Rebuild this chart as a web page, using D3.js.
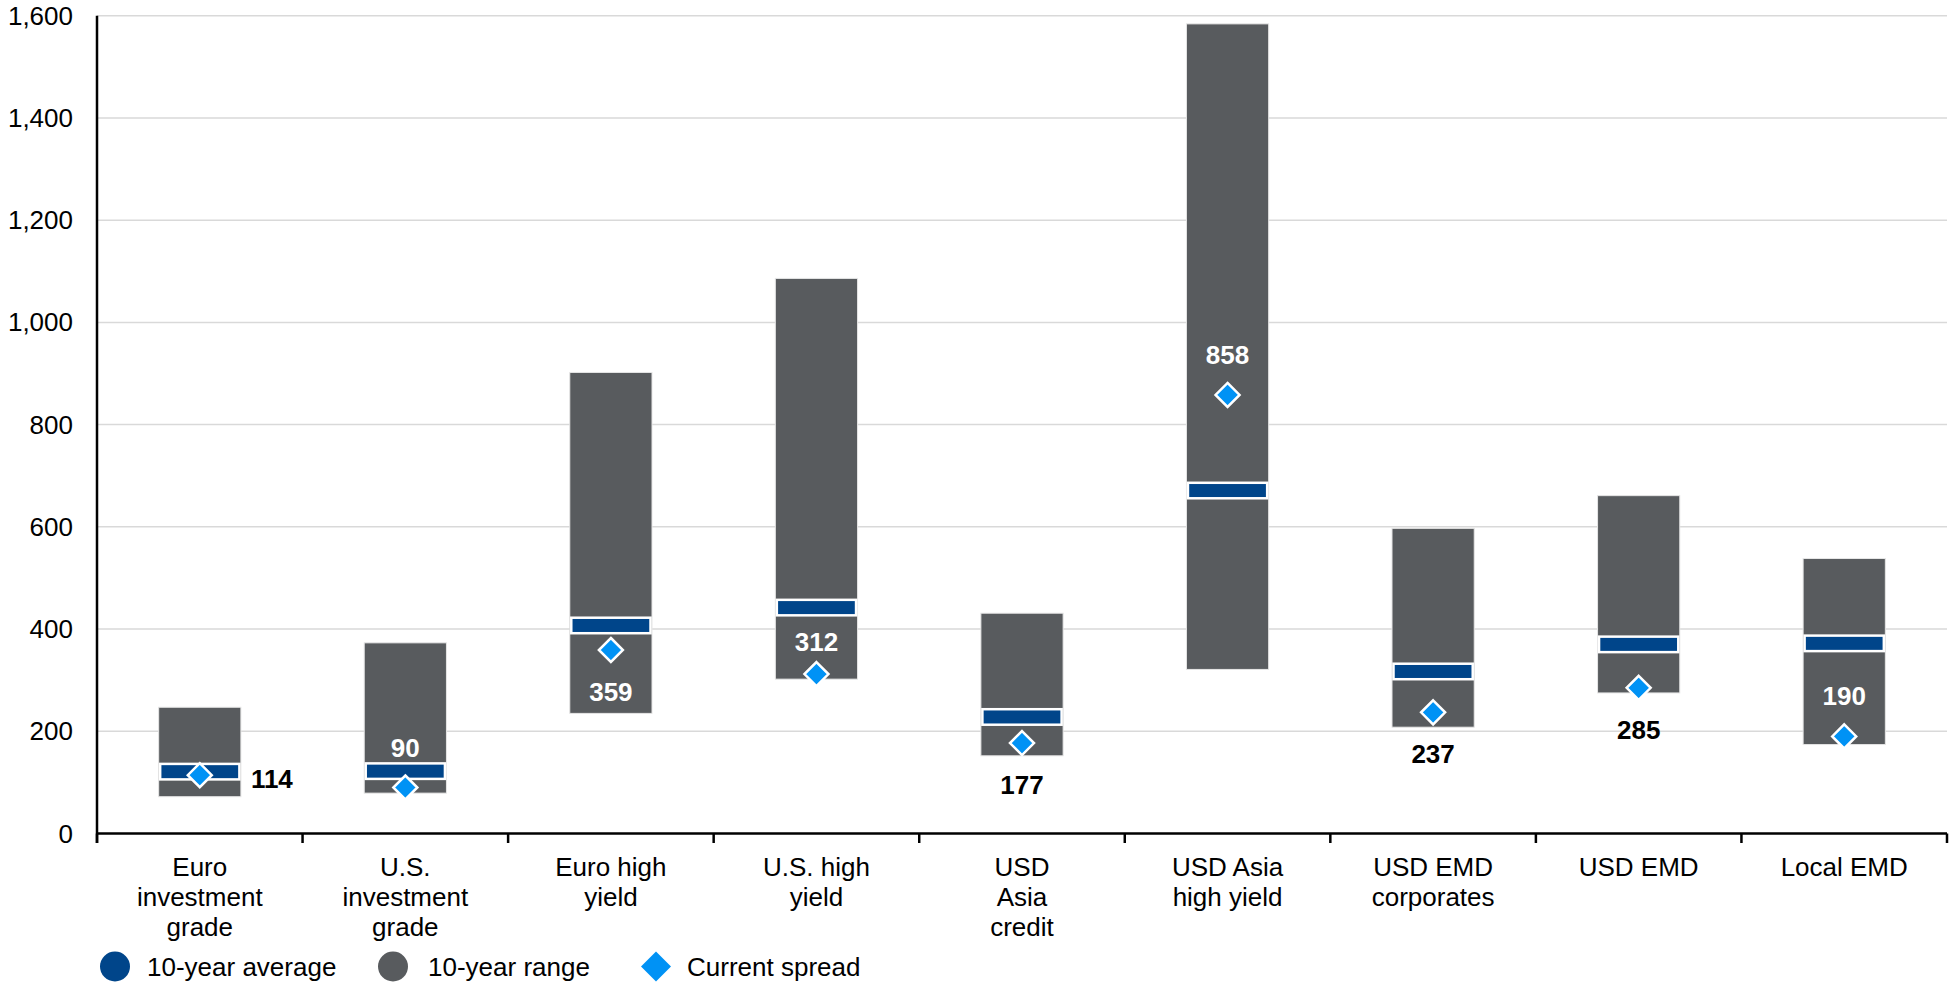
<!DOCTYPE html>
<html>
<head>
<meta charset="utf-8">
<script src="https://cdn.jsdelivr.net/npm/d3@7"></script>
<style>
  html, body { margin: 0; padding: 0; background: #fff; }
  svg { display: block; font-family: "Liberation Sans", Arial, sans-serif; }
</style>
</head>
<body>
<svg id="chart" width="1959" height="984"></svg>
<script>
// Sector spreads (bps): 10-year range, 10-year average and current spread
const categories = [
  "Euro\ninvestment\ngrade",
  "U.S.\ninvestment\ngrade",
  "Euro high\nyield",
  "U.S. high\nyield",
  "USD\nAsia\ncredit",
  "USD Asia\nhigh yield",
  "USD EMD\ncorporates",
  "USD EMD",
  "Local EMD"
];
const rangeLow      = [72, 79, 235, 302, 152, 321, 208, 275, 174];
const rangeHigh     = [247, 373, 902, 1086, 431, 1584, 597, 661, 538];
const tenYearAvg    = [121, 122, 407, 442, 228, 671, 317, 370, 372];
const currentSpread = [114, 90, 359, 312, 177, 858, 237, 285, 190];
const labelPlacement = ["right", "above", "below", "between", "below", "above", "below", "below", "above"];
const yTicks = [0, 200, 400, 600, 800, 1000, 1200, 1400, 1600];
const legendItems = [
  { name: "10-year average", shape: "circle",  color: "#00458a" },
  { name: "10-year range",   shape: "circle",  color: "#585b5e" },
  { name: "Current spread",  shape: "diamond", color: "#0092f5" }
];

const COLORS = { range: "#585b5e", avg: "#00458a", spread: "#0092f5", grid: "#d9d9d9" };
const FONT = 26;

const svg = d3.select("#chart");
const plotLeft = 97, plotRight = 1947, plotTop = 15.7, plotBottom = 833.5;

const x = d3.scaleBand().domain(categories).range([plotLeft, plotRight])
  .paddingInner(0.6).paddingOuter(0.3);
const y = d3.scaleLinear().domain([0, 1600]).range([plotBottom, plotTop]);

// gridlines
svg.append("g").selectAll("line").data(yTicks.filter(d => d > 0)).join("line")
  .attr("x1", plotLeft).attr("x2", plotRight)
  .attr("y1", d => y(d)).attr("y2", d => y(d))
  .attr("stroke", COLORS.grid).attr("stroke-width", 1.5);

// y tick labels
const fmt = d3.format(",");
svg.append("g").selectAll("text").data(yTicks).join("text")
  .attr("x", 73).attr("y", d => y(d)).attr("dy", "0.35em")
  .attr("text-anchor", "end").attr("font-size", FONT).attr("fill", "#000")
  .text(d => fmt(d));

const data = categories.map((c, i) => ({
  cat: c, lo: rangeLow[i], hi: rangeHigh[i], avg: tenYearAvg[i],
  cur: currentSpread[i], place: labelPlacement[i]
}));

// 10-year range bars
svg.append("g").selectAll("rect").data(data).join("rect")
  .attr("x", d => x(d.cat)).attr("width", x.bandwidth())
  .attr("y", d => y(d.hi)).attr("height", d => y(d.lo) - y(d.hi))
  .attr("fill", COLORS.range).attr("stroke", "#e6e6e6").attr("stroke-width", 1);

// 10-year average markers
const avgH = 15.5;
svg.append("g").selectAll("rect").data(data).join("rect")
  .attr("x", d => x(d.cat) + 1.5).attr("width", x.bandwidth() - 3)
  .attr("y", d => y(d.avg) - avgH / 2).attr("height", avgH)
  .attr("fill", COLORS.avg).attr("stroke", "#fff").attr("stroke-width", 2.5);

// current spread diamonds
const dr = 12;
const diamondPath = r => `M0,${-r}L${r},0L0,${r}L${-r},0Z`;
svg.append("g").selectAll("path").data(data).join("path")
  .attr("transform", d => `translate(${x(d.cat) + x.bandwidth() / 2},${y(d.cur)})`)
  .attr("d", diamondPath(dr))
  .attr("fill", COLORS.spread).attr("stroke", "#fff").attr("stroke-width", 2.5);

// value labels for the current spread
svg.append("g").selectAll("text").data(data).join("text")
  .each(function (d) {
    const cx = x(d.cat) + x.bandwidth() / 2;
    const cy = y(d.cur);
    let tx = cx, ty = cy, anchor = "middle";
    if (d.place === "right") { tx = x(d.cat) + x.bandwidth() + 10; ty = cy + 4; anchor = "start"; }
    else if (d.place === "above") { ty = cy - 40; }
    else if (d.place === "between") { ty = (cy + y(d.avg)) / 2 + 1.5; }
    else { ty = cy + 42; }
    const inside = ty > y(d.hi) && ty < y(d.lo) && anchor === "middle";
    d3.select(this)
      .attr("x", tx).attr("y", ty).attr("dy", "0.35em")
      .attr("text-anchor", anchor)
      .attr("font-size", FONT).attr("font-weight", "bold")
      .attr("fill", inside ? "#fff" : "#000")
      .text(fmt(d.cur));
  });

// axis lines
svg.append("line").attr("x1", plotLeft).attr("x2", plotLeft).attr("y1", plotTop).attr("y2", plotBottom + 9.5)
  .attr("stroke", "#000").attr("stroke-width", 2.5);
svg.append("line").attr("x1", plotLeft).attr("x2", plotRight).attr("y1", plotBottom).attr("y2", plotBottom)
  .attr("stroke", "#000").attr("stroke-width", 2.5);

// category boundary ticks
const step = x.step();
const boundaries = d3.range(categories.length + 1).map(i => plotLeft + i * step);
svg.append("g").selectAll("line").data(boundaries).join("line")
  .attr("x1", d => d).attr("x2", d => d)
  .attr("y1", plotBottom).attr("y2", plotBottom + 9.5)
  .attr("stroke", "#000").attr("stroke-width", 2.5);

// category labels
const catG = svg.append("g").selectAll("text").data(categories).join("text")
  .attr("x", d => x(d) + x.bandwidth() / 2).attr("y", 876)
  .attr("text-anchor", "middle").attr("font-size", FONT).attr("fill", "#000");
catG.selectAll("tspan").data(d => d.split("\n")).join("tspan")
  .attr("x", function () { return d3.select(this.parentNode).attr("x"); })
  .attr("dy", (d, i) => i === 0 ? 0 : 30)
  .text(d => d);

// legend
const legendY = 966.5;
const legendX = [115, 393, 656];
const lg = svg.append("g").selectAll("g").data(legendItems).join("g")
  .attr("transform", (d, i) => `translate(${legendX[i]},${legendY})`);
lg.each(function (d, i) {
  const g = d3.select(this);
  if (d.shape === "circle") {
    g.append("circle").attr("r", 15).attr("fill", d.color);
  } else {
    g.append("path").attr("d", diamondPath(15)).attr("fill", d.color);
  }
  g.append("text").attr("x", d.shape === "circle" ? (i === 0 ? 32 : 35) : 31).attr("dy", "0.35em")
    .attr("font-size", FONT).attr("fill", "#000").text(d.name);
});
</script>
</body>
</html>
